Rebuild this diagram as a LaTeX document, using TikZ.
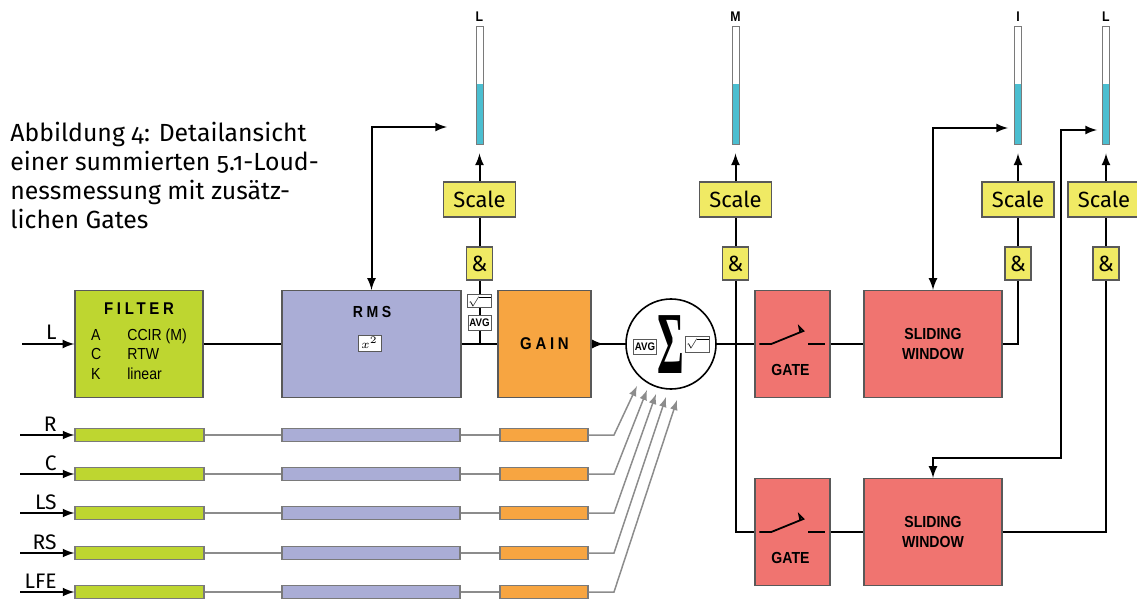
\documentclass[tikz,border=0pt]{standalone}
\usepackage{fontspec}
\setmainfont[Numbers=OldStyle]{Fira Sans}
\newfontfamily\dgmfont[FakeStretch=0.88]{Liberation Sans}
\newfontfamily\spacefont[FakeStretch=0.88,LetterSpace=22]{Liberation Sans}
\newfontfamily\sigfont{Liberation Serif}
\usetikzlibrary{positioning,calc,arrows}
\definecolor{flgreen}{HTML}{BED630}
\definecolor{rmsblue}{HTML}{AAADD6}
\definecolor{gnorange}{HTML}{F7A541}
\definecolor{gtred}{HTML}{F07470}
\definecolor{scyellow}{HTML}{F0EA64}
\definecolor{mtcyan}{HTML}{4BBED0}
\definecolor{bxgrey}{HTML}{595959}
\definecolor{lngrey}{HTML}{8C8C8C}
\tikzset{
  blk/.style  ={rectangle, draw=bxgrey, line width=0.7pt, minimum height=53.5pt,
                inner sep=2pt, align=center, font=\dgmfont\bfseries\fontsize{8}{10.3}\selectfont},
  filt/.style ={blk, fill=flgreen, minimum width=64pt},
  rmsb/.style ={blk, fill=rmsblue, minimum width=89.5pt},
  gainb/.style={blk, fill=gnorange, minimum width=46.5pt},
  gateb/.style={blk, fill=gtred, minimum width=37.5pt},
  winb/.style ={blk, fill=gtred, minimum width=69pt},
  bar/.style  ={rectangle, draw=bxgrey!80, line width=0.6pt, minimum height=6.5pt, inner sep=0pt},
  scl/.style  ={rectangle, draw=bxgrey, line width=0.6pt, fill=scyellow, minimum width=36pt,
                minimum height=17.5pt, inner sep=0pt, font=\fontsize{11}{11}\selectfont},
  amp/.style  ={scl, minimum width=13pt, minimum height=16.5pt},
  mtr/.style  ={rectangle, draw=bxgrey!80, line width=0.5pt, fill=white, minimum width=3.5pt,
                minimum height=59pt, inner sep=0pt,
                path picture={\fill[mtcyan] (path picture bounding box.south west) rectangle
                  ($(path picture bounding box.north east)!0.48!(path picture bounding box.south east)$);}},
  mlbl/.style ={font=\dgmfont\bfseries\fontsize{7}{7}\selectfont, inner sep=0pt},
  ico/.style  ={rectangle, draw=bxgrey, line width=0.5pt, fill=white, minimum width=11.5pt,
                minimum height=7.5pt, inner sep=0pt, font=\dgmfont\bfseries\fontsize{5.5}{6}\selectfont},
  chl/.style  ={font=\fontsize{10.5}{10.5}\selectfont, inner sep=0pt, anchor=base east},
  ln/.style   ={line width=1pt, draw=black},
  fl/.style   ={-latex, line width=1pt, draw=black},
  fb/.style   ={latex-latex, line width=1pt, draw=black},
  gl/.style   ={line width=0.75pt, draw=lngrey},
  gfl/.style  ={-latex, line width=0.75pt, draw=lngrey}
}

\begin{document}
\begin{tikzpicture}[x=0.5pt, y=-0.5pt]
  \useasboundingbox (0,0) rectangle (1137,599);
  % caption
  \node[anchor=north west, align=left, inner sep=0pt, font=\fontsize{12.4}{14.4}\selectfont] (caption) at (10,122)
    {Abbildung 4: Detailansicht\\einer summierten 5.1-Loud-\\nessmessung mit zusätz-\\lichen Gates};

  % L channel, full chain
  \node[filt, font=\dgmfont\fontsize{8}{9.75}\selectfont] (filter) at (139,344)
    {{\spacefont\bfseries\fontsize{8.5}{9.75}\selectfont FILTER}\\[5pt]
     \begin{tabular}{@{}l@{\hspace{13pt}}l@{}}A&CCIR (M)\\C&RTW\\K&linear\end{tabular}};
  \node[rmsb] (rms) at (371.5,344) {};
  \node[font=\spacefont\bfseries\fontsize{8}{10}\selectfont] (rmslbl) at (372,312) {RMS};
  \node[ico, font=\fontsize{6.5}{7}\selectfont, minimum height=8pt] (sq) at (369.5,343) {$x^2$};
  \node[gainb, font=\spacefont\bfseries\fontsize{8.5}{10}\selectfont] (gain) at (544.5,344) {GAIN};
  \node[chl] (lblL) at (57,340) {L};
  \coordinate (inL) at (22,344);
  \draw[fl] (inL) -- (filter);
  \draw[ln] (filter) -- (rms);
  \draw[ln] (rms) -- (gain);

  % short-term meter L
  \coordinate (jrms) at (479.5,344);
  \node[ico] (avg1) at (479.5,323) {AVG};
  \node[ico, font=\fontsize{5}{5}\selectfont, minimum height=6.5pt] (rt1) at (479.5,301.5) {$\sqrt{\hphantom{m}}$};
  \node[amp] (amp1) at (479.5,263.5) {\&};
  \node[scl] (scl1) at (479.5,199.5) {Scale};
  \node[mtr] (mtr1) at (479.5,86) {};
  \node[mlbl] (mlbl1) at (479.5,17) {L};
  \draw[ln] (jrms) -- (avg1) -- (rt1) -- (amp1) -- (scl1);
  \draw[fl, shorten >=4pt] (scl1) -- (mtr1);
  \coordinate (fbL) at (447,127);
  \draw[fb] (rms.north) |- (fbL);

  % summing point
  \node[circle, draw=black, line width=0.8pt, minimum size=45pt, inner sep=0pt] (sum) at (671,344) {};
  \node[ico] (avg2) at (645,346.5) {AVG};
  \node[inner sep=0pt] (sig) at (670.5,345) {\scalebox{0.6}[1.3]{\sigfont\bfseries\fontsize{34}{34}\selectfont Σ}};
  \node[ico, font=\fontsize{5}{5}\selectfont, minimum height=8pt] (rt2) at (697.5,344) {$\sqrt{\hphantom{m}}$};
  \draw[ln] (gain) -- (sum);
  \draw[fl] (gain.east) -- ++(12,0);

  % momentary meter M
  \node[amp] (ampM) at (735.5,263.5) {\&};
  \node[scl] (sclM) at (735.5,199.5) {Scale};
  \node[mtr] (mtrM) at (735.5,86) {};
  \node[mlbl] (mlblM) at (735.5,17) {M};
  \draw[ln] (ampM) -- (sclM);
  \draw[fl, shorten >=4pt] (sclM) -- (mtrM);

  % gates and sliding windows
  \node[gateb] (gate1) at (792.5,344) {};
  \node[gateb] (gate2) at (792.5,532) {};
  \node[winb] (win1) at (933,344) {SLIDING\\WINDOW};
  \node[winb] (win2) at (933,532) {SLIDING\\WINDOW};
  \foreach \g in {gate1,gate2}{
    \node[font=\dgmfont\bfseries\fontsize{8}{10}\selectfont] at ($(\g)+(-2,26)$) {GATE};
    \draw[line width=0.9pt] ($(\g.west)+(5,0)$) -- ++(12,0) -- ++(32,-13) -- ++(-4,-4) -- ++(1,5);
    \draw[line width=0.9pt] ($(\g.east)+(-6,0)$) -- ++(-17,0);
  }
  \draw[ln] (sum) -- (gate1);
  \draw[ln] (ampM) |- (gate2);
  \draw[ln] (gate1) -- (win1);
  \draw[ln] (gate2) -- (win2);

  % integrated meter I
  \node[amp] (ampI) at (1018,263.5) {\&};
  \node[scl] (sclI) at (1018,199.5) {Scale};
  \node[mtr] (mtrI) at (1018,86) {};
  \node[mlbl] (mlblI) at (1018,17) {I};
  \draw[ln] (win1) -| (ampI);
  \draw[ln] (ampI) -- (sclI);
  \draw[fl, shorten >=4pt] (sclI) -- (mtrI);
  \coordinate (fbI) at (1008,128);
  \draw[fb] (win1.north) |- (fbI);

  % loudness range meter L
  \node[amp] (ampL) at (1106,263.5) {\&};
  \node[scl] (sclL) at (1104,199.5) {Scale};
  \node[mtr] (mtrL) at (1106,86) {};
  \node[mlbl] (mlblL) at (1106,17) {L};
  \draw[ln] (win2) -| (ampL);
  \draw[ln] (ampL) -- (ampL |- sclL.south);
  \draw[fl, shorten >=4pt] (ampL |- sclL.north) -- (mtrL);
  \coordinate (kn) at (1061,458);
  \coordinate (fbL2) at (1097,130);
  \draw[fb] (win2.north) |- (kn) |- (fbL2);

  % other channels
  \foreach \lab/\y/\k/\tx/\ty in {R/435/1/637/386, C/474/2/647/390, LS/513/3/656/394,
                                 RS/553/4/666/397, LFE/592/5/677/400}{
    \node[bar, fill=flgreen, minimum width=64.5pt] (fbar\k) at (139.5,\y) {};
    \node[bar, fill=rmsblue, minimum width=89pt] (rbar\k) at (371,\y) {};
    \node[bar, fill=gnorange, minimum width=44pt] (gbar\k) at (544,\y) {};
    \node[chl] (lbl\k) at (57,\y-4) {\lab};
    \coordinate (in\k) at (20,\y);
    \coordinate (bd\k) at (614,\y);
    \coordinate (tp\k) at (\tx,\ty);
    \draw[fl] (in\k) -- (fbar\k);
    \draw[gl] (fbar\k) -- (rbar\k) -- (gbar\k);
    \draw[gfl] (gbar\k) -- (bd\k) -- (tp\k);
  }
\end{tikzpicture}
\end{document}
